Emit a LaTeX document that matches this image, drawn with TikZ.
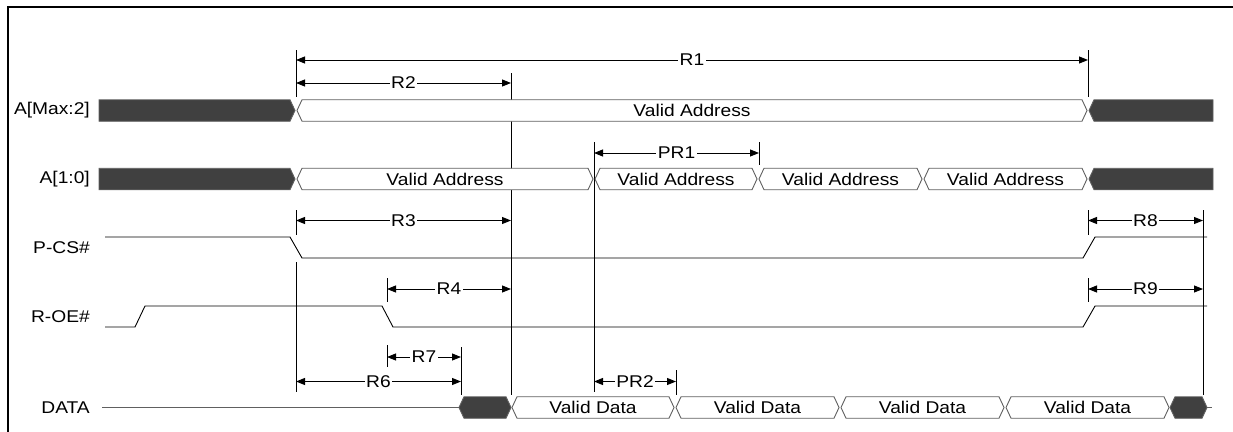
\documentclass[tikz,border=0pt]{standalone}
\usepackage{fontspec}
\setmainfont{Liberation Sans}[FakeStretch=1.13]
\usetikzlibrary{arrows.meta}
\definecolor{busdark}{HTML}{404040}
\definecolor{busedge}{HTML}{606060}
\newcommand{\hexseg}[4]{\path[#4] (#1+1,#3) -- (#1+6,#3-10.75) -- (#2-6,#3-10.75) -- (#2-1,#3) -- (#2-6,#3+10.75) -- (#1+6,#3+10.75) -- cycle;}
\newcommand{\leftflat}[4]{\path[#4] (#1,#3-10.75) -- (#2-6,#3-10.75) -- (#2-1,#3) -- (#2-6,#3+10.75) -- (#1,#3+10.75) -- cycle;}
\newcommand{\rightflat}[4]{\path[#4] (#1+1,#3) -- (#1+6,#3-10.75) -- (#2,#3-10.75) -- (#2,#3+10.75) -- (#1+6,#3+10.75) -- cycle;}
\begin{document}
\begin{tikzpicture}[x=1pt,y=-1pt,
  every node/.style={font=\fontsize{17}{20}\selectfont, inner sep=0pt},
  sig/.style={line width=0.9pt, black},
  dimline/.style={line width=0.9pt, black, {Triangle[length=9pt,width=7pt]}-{Triangle[length=9pt,width=7pt]}},
  ext/.style={line width=0.9pt, black},
  thickext/.style={line width=1.5pt, black},
  darkbus/.style={fill=busdark, draw=busedge, line width=0.9pt},
  whitebus/.style={fill=white, draw=busedge, line width=0.9pt},
  dimlabel/.style={fill=white, inner xsep=1.5pt, inner ysep=0pt},
  siglabel/.style={anchor=east}]
\useasboundingbox (0,0) rectangle (1233,431);
% frame
\draw[line width=2pt] (8,432) -- (8,6.5) -- (1234,6.5);

% extension lines (drawn under the buses)
\draw[ext] (296,50) -- (296,97);
\draw[ext] (1088,50) -- (1088,97);
\draw[ext] (511,73) -- (511,395);
\draw[thickext] (511.3,208) -- (511.3,395);
\draw[ext] (594,142) -- (594,392);
\draw[ext] (759,142) -- (759,165);
\draw[ext] (296,210) -- (296,235);
\draw[ext] (296,262) -- (296,392);
\draw[ext] (387,278) -- (387,302);
\draw[ext] (387,345) -- (387,367);
\draw[ext] (461,347) -- (461,395);
\draw[ext] (676,370) -- (676,395);
\draw[ext] (1088,210) -- (1088,235);
\draw[ext] (1088,278) -- (1088,302);
\draw[ext] (1203,210) -- (1203,395);

% signal names
\node[siglabel] (nA2) at (90,110) {A[Max:2]};
\node[siglabel] (nA0) at (90,179) {A[1:0]};
\node[siglabel] (nCS) at (90,248) {P-CS\#};
\node[siglabel] (nOE) at (90,316.5) {R-OE\#};
\node[siglabel] (nD)  at (90,408) {DATA};

% A[Max:2]
\leftflat{99}{296}{110.5}{darkbus}
\hexseg{296}{1088}{110.5}{whitebus}
\rightflat{1088}{1213}{110.5}{darkbus}
\node (tA2) at (692,110.5) {Valid Address};

% A[1:0]
\leftflat{99}{296}{179}{darkbus}
\hexseg{296}{594}{179}{whitebus}
\hexseg{594}{758}{179}{whitebus}
\hexseg{758}{923}{179}{whitebus}
\hexseg{923}{1088}{179}{whitebus}
\rightflat{1088}{1213}{179}{darkbus}
\node (tA0a) at (445,179) {Valid Address};
\node (tA0b) at (676,179) {Valid Address};
\node (tA0c) at (840.5,179) {Valid Address};
\node (tA0d) at (1005.5,179) {Valid Address};

% P-CS#
\draw[sig] (105,237) -- (290,237) -- (302,258) -- (1083,258) -- (1095,237) -- (1207,237);
% R-OE#
\draw[sig] (105,327) -- (135,327) -- (145,306) -- (382,306) -- (393,327) -- (1083,327) -- (1095,306) -- (1207,306);

% DATA
\draw[sig, busedge] (102,407.5) -- (460,407.5);
\hexseg{458}{512}{407.5}{darkbus}
\hexseg{511}{675}{407.5}{whitebus}
\hexseg{675}{840}{407.5}{whitebus}
\hexseg{840}{1005}{407.5}{whitebus}
\hexseg{1005}{1170}{407.5}{whitebus}
\hexseg{1169}{1208}{407.5}{darkbus}
\draw[sig, busedge] (1207,407.5) -- (1212,407.5);
\node (tDa) at (593,407.5) {Valid Data};
\node (tDb) at (757.5,407.5) {Valid Data};
\node (tDc) at (922.5,407.5) {Valid Data};
\node (tDd) at (1087.5,407.5) {Valid Data};

% dimension coordinates
\coordinate (r1a) at (296,60);  \coordinate (r1b) at (1088,60);
\coordinate (r2a) at (296,83);  \coordinate (r2b) at (511,83);
\coordinate (p1a) at (594,153); \coordinate (p1b) at (759,153);
\coordinate (r3a) at (296,220.5); \coordinate (r3b) at (511,220.5);
\coordinate (r4a) at (387,289); \coordinate (r4b) at (511,289);
\coordinate (r7a) at (387,357); \coordinate (r7b) at (461,357);
\coordinate (r6a) at (296,381.5); \coordinate (r6b) at (461,381.5);
\coordinate (p2a) at (594,381.5); \coordinate (p2b) at (676,381.5);
\coordinate (r8a) at (1088,220.5); \coordinate (r8b) at (1203,220.5);
\coordinate (r9a) at (1088,289); \coordinate (r9b) at (1203,289);

\draw[dimline] (r1a) -- node[dimlabel] (lR1) {R1} (r1b);
\draw[dimline] (r2a) -- node[dimlabel] (lR2) {R2} (r2b);
\draw[dimline] (p1a) -- node[dimlabel] (lP1) {PR1} (p1b);
\draw[dimline] (r3a) -- node[dimlabel] (lR3) {R3} (r3b);
\draw[dimline] (r4a) -- node[dimlabel] (lR4) {R4} (r4b);
\draw[dimline] (r7a) -- node[dimlabel] (lR7) {R7} (r7b);
\draw[dimline] (r6a) -- node[dimlabel] (lR6) {R6} (r6b);
\draw[dimline] (p2a) -- node[dimlabel] (lP2) {PR2} (p2b);
\draw[dimline] (r8a) -- node[dimlabel] (lR8) {R8} (r8b);
\draw[dimline] (r9a) -- node[dimlabel] (lR9) {R9} (r9b);
\end{tikzpicture}
\end{document}
